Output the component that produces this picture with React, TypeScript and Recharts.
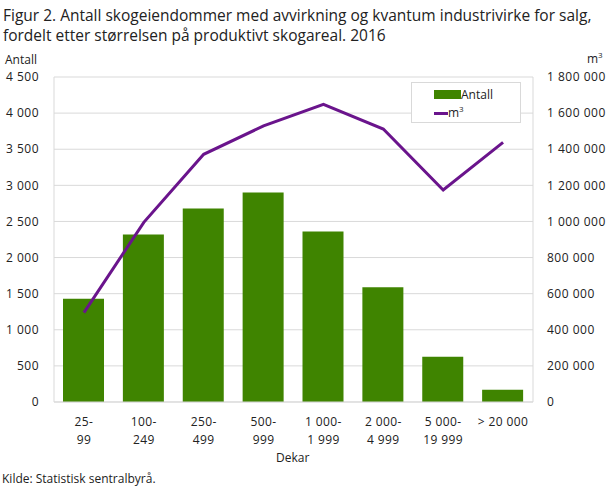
import React from 'react';
import {
  ComposedChart, Bar, Line, XAxis, YAxis, CartesianGrid,
} from 'recharts';

// ─── Data ────────────────────────────────────────────────────────────────────

const CATEGORIES = [
  ['25-', '99'],
  ['100-', '249'],
  ['250-', '499'],
  ['500-', '999'],
  ['1 000-', '1 999'],
  ['2 000-', '4 999'],
  ['5 000-', '19 999'],
  ['> 20 000', ''],
];

const ANTALL = [1430, 2320, 2680, 2900, 2360, 1590, 625, 170];
const KUBIKK = [495000, 995000, 1372000, 1529000, 1649000, 1512000, 1174000, 1438000];

const LEFT_TICKS = [0, 500, 1000, 1500, 2000, 2500, 3000, 3500, 4000, 4500];
const RIGHT_TICKS = [0, 200000, 400000, 600000, 800000, 1000000, 1200000, 1400000, 1600000, 1800000];

const data = CATEGORIES.map((c, i) => ({
  key: c.join('|'),
  antall: ANTALL[i],
  m3: KUBIKK[i],
}));

// ─── Styles ──────────────────────────────────────────────────────────────────

const FONT = '"Open Sans", sans-serif';
const TEXT = '#222222';
const GREEN = '#3f8400';
const PURPLE = '#6a148c';
const GRID = '#d9d9d9';

const fmt = (v: number) => String(v).replace(/\B(?=(\d{3})+(?!\d))/g, ' ');

function CategoryTick({ x, y, payload }: any) {
  const [a, b] = String(payload.value).split('|');
  return (
    <text x={x} y={y} textAnchor="middle" fill={TEXT} fontSize={12} fontFamily={FONT} letterSpacing={0.4}>
      <tspan x={x} dy={16}>{a}</tspan>
      {b && <tspan x={x} dy={18}>{b}</tspan>}
    </text>
  );
}

function LegendBox() {
  return (
    <div style={{
      position: 'absolute', left: 411, top: 82,
      width: 110, height: 41, border: '1px solid #d9d9d9', background: '#fff',
      fontFamily: FONT, fontSize: 12, color: TEXT, boxSizing: 'border-box',
      paddingLeft: 22, paddingTop: 2,
    }}>
      <div style={{ display: 'flex', alignItems: 'center', height: 18 }}>
        <span style={{ width: 27, height: 9, background: GREEN, display: 'inline-block' }} />
        <span>Antall</span>
      </div>
      <div style={{ display: 'flex', alignItems: 'center', height: 17 }}>
        <span style={{ width: 14, height: 3, background: PURPLE, display: 'inline-block', marginTop: 4 }} />
        <span>m<sup style={{ fontSize: 8 }}>3</sup></span>
      </div>
    </div>
  );
}

const tickStyle = { fontSize: 12, fill: TEXT, fontFamily: FONT, letterSpacing: 0.5 };

export default function App() {
  return (
    <div style={{ position: 'absolute', left: 0, top: 0, width: 610, height: 489, background: '#fff', fontFamily: FONT, color: TEXT }}>
      <div style={{ position: 'absolute', left: 3, top: 5, fontSize: 15.5, lineHeight: '20px', width: 607 }}>
        Figur 2. Antall skogeiendommer med avvirkning og kvantum industrivirke for salg, fordelt etter størrelsen på produktivt skogareal. 2016
      </div>
      <div style={{ position: 'absolute', left: 5, top: 52, fontSize: 12, lineHeight: '15px' }}>Antall</div>
      <div style={{ position: 'absolute', left: 587, top: 49, fontSize: 12 }}>
        m<sup style={{ fontSize: 8 }}>3</sup>
      </div>
      <div style={{ position: 'absolute', left: 0, top: 0 }}>
        <ComposedChart
          width={610}
          height={489}
          data={data}
          margin={{ top: 77, right: 0, left: 0, bottom: 27 }}
        >
          <CartesianGrid vertical={false} stroke={GRID} yAxisId="left" />
          <XAxis
            dataKey="key"
            tick={<CategoryTick />}
            tickLine={false}
            axisLine={{ stroke: GRID }}
            interval={0}
            height={60}
          />
          <YAxis
            yAxisId="left"
            domain={[0, 4500]}
            ticks={LEFT_TICKS}
            tickFormatter={fmt}
            width={54}
            tickLine={false}
            tickSize={0}
            tickMargin={15}
            axisLine={{ stroke: GRID }}
            tick={tickStyle}
          />
          <YAxis
            yAxisId="right"
            orientation="right"
            domain={[0, 1800000]}
            ticks={RIGHT_TICKS}
            tickFormatter={fmt}
            width={77}
            tickLine={false}
            tickSize={0}
            tickMargin={14}
            axisLine={{ stroke: GRID }}
            tick={{ ...tickStyle, textAnchor: 'start' }}
          />
          <Bar yAxisId="left" dataKey="antall" fill={GREEN} barSize={41} isAnimationActive={false} name="Antall" />
          <Line
            yAxisId="right"
            dataKey="m3"
            stroke={PURPLE}
            strokeWidth={3}
            dot={false}
            type="linear"
            isAnimationActive={false}
            name="m3"
          />
        </ComposedChart>
      </div>
      <LegendBox />
      <div style={{ position: 'absolute', left: 276, top: 449, fontSize: 12 }}>Dekar</div>
      <div style={{ position: 'absolute', left: 2, top: 470, fontSize: 12 }}>Kilde: Statistisk sentralbyrå.</div>
    </div>
  );
}
